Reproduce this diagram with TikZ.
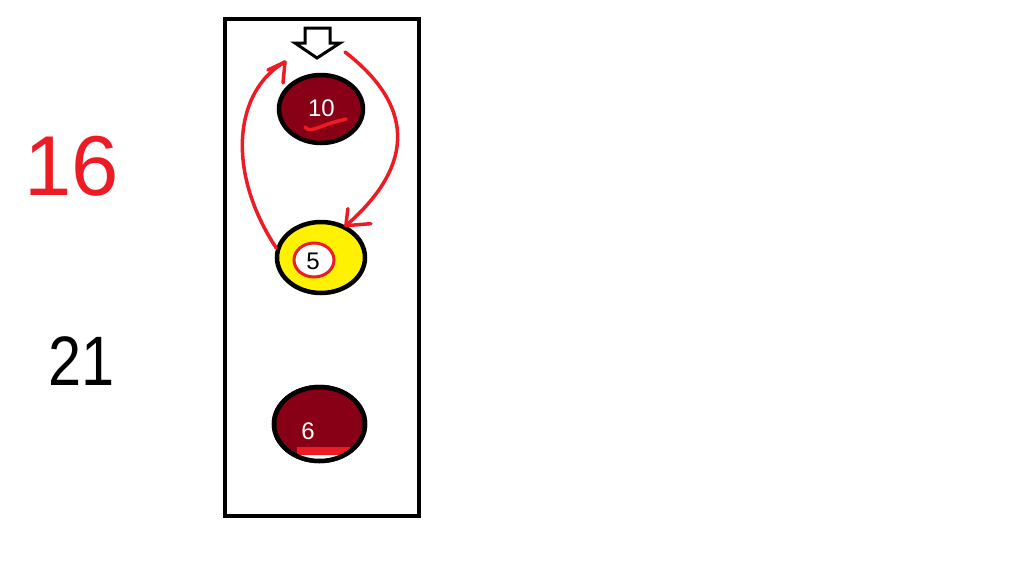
\documentclass[tikz,border=0pt]{standalone}
\usepackage{fontspec}
\setmainfont{Liberation Sans}
\usetikzlibrary{shapes.geometric}
\definecolor{pdred}{HTML}{880015}
\definecolor{pyel}{HTML}{FFF200}
\definecolor{pred}{HTML}{ED1C24}
\begin{document}
\begin{tikzpicture}[x=1pt,y=-1pt,
  ball/.style={ellipse,draw=black,line width=4.5pt,inner sep=0pt},
  redpen/.style={draw=pred,line width=3.5pt,line cap=round,line join=round},
  numlbl/.style={font=\fontsize{24}{24}\selectfont,inner sep=0pt},
  handnum/.style={inner sep=0pt}]
\useasboundingbox[fill=white] (0,0) rectangle (1018,579);
% frame
\node[draw,line width=4pt,minimum width=194.5pt,minimum height=497pt,inner sep=0pt] (box) at (321.75,267.5) {};
% hollow down arrow
\draw[line width=3pt,fill=white,line join=miter] (305,28) -- (330,28) -- (330,43) -- (340,43) -- (317,58) -- (295,43) -- (305,43) -- cycle;
\coordinate (lt) at (285,62);
\coordinate (rs) at (345,52);
% balls
\node[ball,fill=pdred,minimum width=84pt,minimum height=68pt] (b10) at (321,109) {};
\node[ball,fill=pyel,minimum width=88pt,minimum height=71pt] (b5) at (321,257.5) {};
\node[ball,fill=pdred,minimum width=91pt,minimum height=74pt] (b6) at (319.5,424) {};
\begin{scope}
  \clip (b6.center) ellipse [x radius=45.5, y radius=37];
  \fill[white] (297,455) rectangle (356,470);
  \fill[pred] (297,447) rectangle (350,455);
\end{scope}
\draw[line width=4.5pt] (b6.center) ellipse [x radius=45.5, y radius=37];
% ring around 5
\node[ellipse,draw=pred,line width=3pt,fill=white,minimum width=40pt,minimum height=34pt,inner sep=0pt] (ring5) at (314,260) {};
% labels
\node[numlbl,text=white] (t10) at (321.5,108.5) {10};
\node[numlbl] (t5) at (313,261.5) {5};
\node[numlbl,text=white] (t6) at (308,431) {6};
% underline squiggle
\draw[redpen] (305,127) .. controls (308,131) and (312,130) .. (320,127) .. controls (330,123) and (338,121) .. (346,119);
% red cycle arrows
\draw[redpen] (b5.168) .. controls (225,170) and (235,90) .. (lt);
\draw[redpen] (lt) -- +(-17,8) (lt) -- +(-2,21);
\draw[redpen] (rs) .. controls (420,110) and (410,170) .. (b5.52);
\draw[redpen] (b5.52) -- +(2,-17) (b5.52) -- +(25,-2);
% side numbers
\node[handnum,text=pred,font=\fontsize{85}{85}\selectfont] (n16) at (72,166) {16};
\node[handnum,font=\fontsize{70}{70}\selectfont,xscale=0.85] (n21) at (82,361) {21};
\end{tikzpicture}
\end{document}
